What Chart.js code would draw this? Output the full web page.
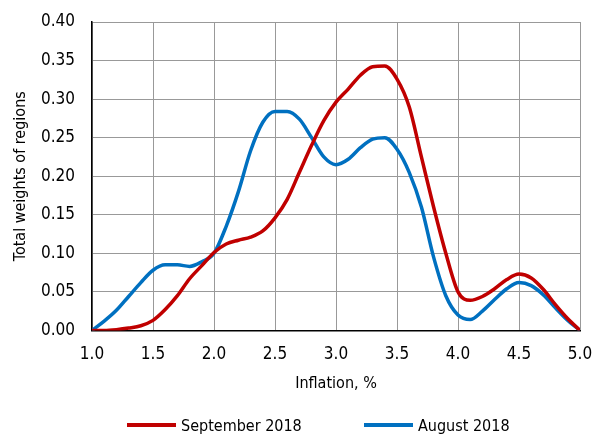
<!DOCTYPE html>
<html>
<head>
<meta charset="utf-8">
<script src="https://cdn.jsdelivr.net/npm/chart.js@4"></script>
<style>
  html, body { margin: 0; padding: 0; background: #fff; }
  #wrap { position: relative; width: 594px; height: 440px; }
  #legend { position: absolute; left: 0; top: 413px; width: 594px; height: 24px;
    font: 16px "DejaVu Sans Condensed", "Liberation Sans Narrow", sans-serif; color: #000; }
  .item { position: absolute; top: 0; display: flex; align-items: center; height: 24px; }
  .swatch { width: 49px; height: 4px; margin-right: 5px; }
</style>
</head>
<body>
<div id="wrap">
  <canvas id="chart" width="594" height="440"></canvas>
  <div id="legend"></div>
</div>
<script>
const inflation = [1.0, 1.1, 1.2, 1.3, 1.4, 1.5, 1.6, 1.7, 1.8, 1.9,
  2.0, 2.1, 2.2, 2.3, 2.4, 2.5, 2.6, 2.7, 2.8, 2.9,
  3.0, 3.1, 3.2, 3.3, 3.4, 3.5, 3.6, 3.7, 3.8, 3.9,
  4.0, 4.1, 4.2, 4.3, 4.4, 4.5, 4.6, 4.7, 4.8, 4.9, 5.0];
const september2018 = [0, 0, 0.001, 0.003, 0.006, 0.013, 0.027, 0.045, 0.067, 0.084,
  0.101, 0.112, 0.117, 0.121, 0.129, 0.146, 0.17, 0.205, 0.24, 0.272,
  0.296, 0.313, 0.331, 0.342, 0.343, 0.326, 0.29, 0.225, 0.16, 0.1,
  0.05, 0.039, 0.044, 0.054, 0.066, 0.073, 0.068, 0.053, 0.033, 0.015, 0];
const august2018 = [0, 0.012, 0.026, 0.044, 0.062, 0.078, 0.085, 0.085, 0.083, 0.089,
  0.1, 0.135, 0.18, 0.233, 0.27, 0.284, 0.284, 0.274, 0.25, 0.225,
  0.215, 0.222, 0.237, 0.248, 0.25, 0.235, 0.205, 0.16, 0.095, 0.045,
  0.02, 0.014, 0.025, 0.04, 0.054, 0.062, 0.058, 0.046, 0.029, 0.013, 0];
const xTicks = [1.0, 1.5, 2.0, 2.5, 3.0, 3.5, 4.0, 4.5, 5.0];
const seriesNames = ['September 2018', 'August 2018'];
const seriesColors = ['#C00000', '#0070C0'];

const FONT = '"DejaVu Sans Condensed", "Liberation Sans Narrow", sans-serif';

new Chart(document.getElementById('chart'), {
  type: 'line',
  data: {
    datasets: [september2018, august2018].map((vals, k) => ({
      label: seriesNames[k],
      data: inflation.map((x, i) => ({ x, y: vals[i] })),
      borderColor: seriesColors[k],
      backgroundColor: seriesColors[k],
      borderWidth: 3.5,
      pointRadius: 0,
      cubicInterpolationMode: 'monotone',
    })),
  },
  options: {
    responsive: false,
    animation: false,
    layout: { padding: { left: 0, right: 14, top: 22, bottom: 47 } },
    plugins: {
      legend: { display: false },
      tooltip: { enabled: false },
    },
    scales: {
      x: {
        type: 'linear',
        min: 1, max: 5,
        afterBuildTicks: axis => { axis.ticks = xTicks.map(v => ({ value: v })); },
        afterFit: axis => { axis.paddingLeft = 0; axis.paddingRight = 0; },
        grid: { color: '#999', lineWidth: 1, drawTicks: false },
        border: { color: '#000', width: 1.5 },
        ticks: { font: { family: FONT, size: 17 }, color: '#000', padding: 14, callback: v => v.toFixed(1) },
        title: { display: true, text: 'Inflation, %', font: { family: FONT, size: 16 }, color: '#000', padding: { top: -5, bottom: 0 } },
      },
      y: {
        min: 0, max: 0.4,
        afterFit: axis => { axis.width = 92; axis.paddingTop = 0; axis.paddingBottom = 0; },
        grid: { color: '#999', lineWidth: 1, drawTicks: false },
        border: { color: '#000', width: 1.5 },
        ticks: { stepSize: 0.05, font: { family: FONT, size: 17 }, color: '#000', padding: 17, callback: v => v.toFixed(2) },
        title: { display: true, text: 'Total weights of regions', font: { family: FONT, size: 16 }, color: '#000', padding: { top: 11, bottom: 0 } },
      },
    },
  },
});

const legend = document.getElementById('legend');
const legendLeft = [127, 364];
seriesNames.forEach((name, k) => {
  const item = document.createElement('div');
  item.className = 'item';
  item.style.left = legendLeft[k] + 'px';
  item.innerHTML = `<span class="swatch" style="background:${seriesColors[k]}"></span><span>${name}</span>`;
  legend.appendChild(item);
});
</script>
</body>
</html>
